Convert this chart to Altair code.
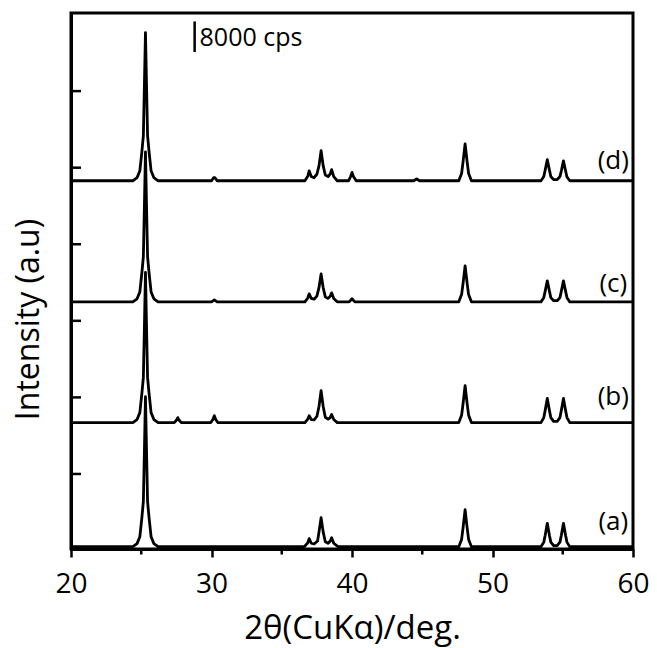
import altair as alt
import pandas as pd

# ---- data (2theta in deg, intensity above each trace's baseline in cps) ----
a_theta = [20.0, 24.4, 24.7, 24.9, 25.05, 25.15, 25.23, 25.3, 25.37, 25.45, 25.55, 25.7, 25.9, 26.2,
           36.6, 36.85, 36.95, 37.1, 37.3, 37.55, 37.65, 37.8, 37.95, 38.1, 38.3, 38.45, 38.55, 38.7, 39.0,
           47.6, 47.8, 47.9, 48.05, 48.2, 48.3, 48.5,
           53.45, 53.65, 53.75, 53.9, 54.05, 54.15, 54.35, 54.6, 54.8, 54.9, 55.05, 55.2, 55.3, 55.5, 60.0]
a_cps = [0, 0, 800, 2600, 7800, 11800, 26000, 39200, 26000, 11800, 7800, 2600, 800, 0,
         0, 1000, 2100, 900, 700, 1500, 3800, 7600, 3800, 1300, 900, 1500, 2350, 900, 0,
         0, 1900, 4800, 9650, 4800, 1900, 0,
         0, 1200, 3000, 6100, 3000, 1200, 300, 300, 1200, 3000, 6100, 3000, 1200, 0, 0]

b_theta = [20.0, 24.4, 24.7, 24.9, 25.05, 25.15, 25.23, 25.3, 25.37, 25.45, 25.55, 25.7, 25.9, 26.2,
           27.35, 27.5, 27.6, 27.7, 27.85,
           29.95, 30.1, 30.2, 30.3, 30.45,
           36.65, 36.85, 36.95, 37.1, 37.3, 37.5, 37.65, 37.8, 37.95, 38.1, 38.3, 38.45, 38.55, 38.7, 38.95,
           47.6, 47.8, 47.9, 48.05, 48.2, 48.3, 48.5,
           53.45, 53.65, 53.75, 53.9, 54.05, 54.15, 54.35, 54.6, 54.8, 54.9, 55.05, 55.2, 55.3, 55.5, 60.0]
b_cps = [0, 0, 800, 2600, 7800, 11800, 26000, 39200, 26000, 11800, 7800, 2600, 800, 0,
         0, 600, 1300, 600, 0,
         0, 800, 1800, 800, 0,
         0, 900, 1800, 800, 700, 1600, 4200, 8350, 4200, 1400, 900, 1300, 2100, 800, 0,
         0, 1900, 4800, 9650, 4800, 1900, 0,
         0, 1300, 3200, 6300, 3200, 1300, 300, 300, 1300, 3200, 6300, 3200, 1300, 0, 0]

c_theta = [20.0, 24.4, 24.7, 24.9, 25.05, 25.15, 25.23, 25.3, 25.37, 25.45, 25.55, 25.7, 25.9, 26.2,
           30.0, 30.2, 30.4,
           36.65, 36.85, 36.95, 37.1, 37.3, 37.5, 37.65, 37.8, 37.95, 38.1, 38.3, 38.45, 38.55, 38.7, 38.95,
           39.8, 40.0, 40.2,
           47.6, 47.8, 47.9, 48.05, 48.2, 48.3, 48.5,
           53.45, 53.65, 53.75, 53.9, 54.05, 54.15, 54.35, 54.6, 54.8, 54.9, 55.05, 55.2, 55.3, 55.5, 60.0]
c_cps = [0, 0, 800, 2600, 7800, 11800, 26000, 39200, 26000, 11800, 7800, 2600, 800, 0,
         0, 500, 0,
         0, 1000, 2100, 900, 700, 1500, 3700, 7300, 3700, 1300, 900, 1500, 2350, 900, 0,
         0, 800, 0,
         0, 1900, 4700, 9400, 4700, 1900, 0,
         0, 1100, 2800, 5500, 2800, 1100, 300, 300, 1100, 2800, 5500, 2800, 1100, 0, 0]

d_theta = [20.0, 24.4, 24.7, 24.9, 25.05, 25.15, 25.23, 25.3, 25.37, 25.45, 25.55, 25.7, 25.9, 26.2,
           30.0, 30.15, 30.25, 30.4,
           36.65, 36.85, 36.95, 37.1, 37.3, 37.5, 37.65, 37.8, 37.95, 38.1, 38.3, 38.45, 38.55, 38.7, 38.95,
           39.75, 39.9, 40.0, 40.1, 40.3,
           44.4, 44.6, 44.8,
           47.6, 47.8, 47.9, 48.05, 48.2, 48.3, 48.5,
           53.45, 53.65, 53.75, 53.9, 54.05, 54.15, 54.35, 54.6, 54.8, 54.9, 55.05, 55.2, 55.3, 55.5, 60.0]
d_cps = [0, 0, 800, 2600, 7800, 11800, 26000, 38700, 26000, 11800, 7800, 2600, 800, 0,
         0, 800, 800, 0,
         0, 1200, 2600, 1100, 800, 1700, 3900, 7850, 3900, 1500, 1100, 1800, 2900, 1100, 0,
         0, 1100, 2200, 1100, 0,
         0, 500, 0,
         0, 1900, 4800, 9650, 4800, 1900, 0,
         0, 1100, 2800, 5500, 2800, 1100, 300, 300, 1100, 2600, 5200, 2600, 1000, 0, 0]

series_names = ["a", "b", "c", "d"]
series_offsets = [1000, 33420, 64950, 96580]     # stacking offset of each pattern (cps)

label_text = ["(a)", "(b)", "(c)", "(d)"]
label_theta = [58.6, 58.6, 58.6, 58.6]
label_cps = [7450, 40070, 69570, 101670]

x_tick_values = [20, 30, 40, 50, 60]
x_minor_values = [25, 35, 45, 55]
y_tick_values = [20000, 40000, 60000, 80000, 100000, 120000]

scale_bar_theta = [28.8]
scale_bar_lo = [130200]
scale_bar_hi = [138200]
scale_bar_text = ["8000 cps"]
scale_bar_text_theta = [29.15]
scale_bar_text_cps = [134000]

FONT = "Open Sans"

# ---- tables ----
rows = []
for name, off, xs, ys in zip(series_names, series_offsets,
                             [a_theta, b_theta, c_theta, d_theta],
                             [a_cps, b_cps, c_cps, d_cps]):
    assert len(xs) == len(ys), name
    for i, (xv, yv) in enumerate(zip(xs, ys)):
        rows.append({"series": name, "idx": i, "theta": xv, "cps": yv + off})
df = pd.DataFrame(rows)

labels_df = pd.DataFrame({"text": label_text, "theta": label_theta, "cps": label_cps})
ytick_df = pd.DataFrame({"theta": [20.0] * len(y_tick_values), "cps": y_tick_values})
xminor_df = pd.DataFrame({"theta": x_minor_values})
bar_df = pd.DataFrame({"theta": scale_bar_theta, "cps": scale_bar_lo, "hi": scale_bar_hi})
bar_text_df = pd.DataFrame({"text": scale_bar_text, "theta": scale_bar_text_theta,
                            "cps": scale_bar_text_cps})

xscale = alt.Scale(domain=[20, 60], nice=False, zero=False)
yscale = alt.Scale(domain=[400, 140400], nice=False, zero=False)

x_axis = alt.Axis(values=x_tick_values, title="2θ(CuKα)/deg.", grid=False,
                  domainColor="black", domainWidth=3, tickColor="black",
                  tickWidth=2.5, tickSize=8, labelFont=FONT, labelFontSize=28,
                  labelColor="black", labelPadding=13, labelFlush=False,
                  titleFont=FONT, titleFontSize=33, titleFontWeight="normal",
                  titleColor="black", titlePadding=14)
y_axis = alt.Axis(title="Intensity (a.u)", ticks=False, labels=False, grid=False,
                  domainColor="black", domainWidth=3,
                  titleFont=FONT, titleFontSize=32, titleFontWeight="normal",
                  titleColor="black", titlePadding=26, titleY=306)

X = alt.X("theta:Q", scale=xscale, axis=x_axis, title="2θ(CuKα)/deg.")
Y = alt.Y("cps:Q", scale=yscale, axis=y_axis, title="Intensity (a.u)")

lines = alt.Chart(df).mark_line(color="black", strokeWidth=2.8, strokeJoin="round").encode(
    x=X, y=Y, detail="series:N", order="idx:Q",
)

yticks = alt.Chart(ytick_df).mark_rule(color="black", strokeWidth=2.5).encode(
    y=Y, x=alt.value(0), x2=alt.value(10),
)

xminor = alt.Chart(xminor_df).mark_rule(color="black", strokeWidth=2.5).encode(
    x=X, y=alt.value(536), y2=alt.value(541.5),
)

bar = alt.Chart(bar_df).mark_rule(color="black", strokeWidth=2.5).encode(
    x=X, y=Y, y2="hi:Q",
)

bar_text = alt.Chart(bar_text_df).mark_text(font=FONT, fontSize=25, align="left",
                                            baseline="middle", color="black").encode(
    x=X, y=Y, text="text:N",
)

labels = alt.Chart(labels_df).mark_text(font=FONT, fontSize=26, align="center",
                                        baseline="middle", color="black").encode(
    x=X, y=Y, text="text:N",
)

chart = alt.layer(lines, yticks, xminor, bar, bar_text, labels).properties(
    width=562, height=536,
    padding={"left": 63, "top": 5, "right": 16, "bottom": 99},
    autosize=alt.AutoSizeParams(type="none"),
    background="white",
).configure_view(stroke="black", strokeWidth=3)

chart.save("out.html", embed_options={"renderer": "svg", "actions": False})
